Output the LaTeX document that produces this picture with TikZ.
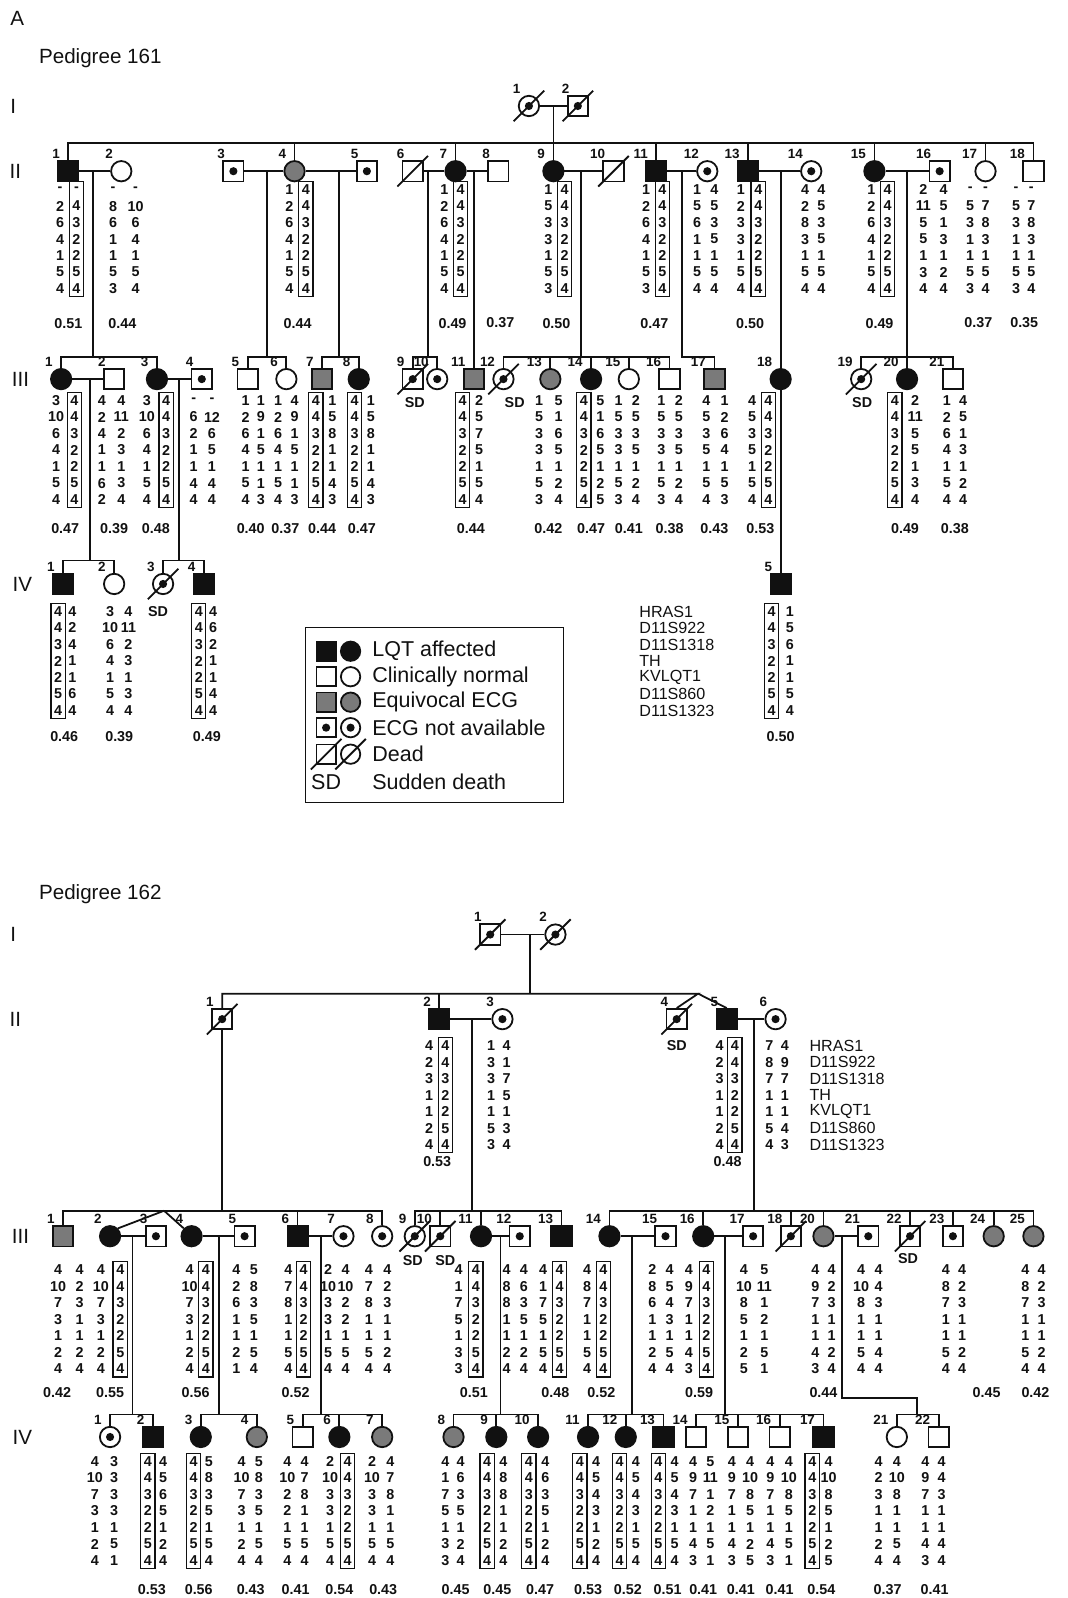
\documentclass[tikz,border=0pt]{standalone}
\usepackage{fontspec}
\setmainfont{Liberation Sans}
\usepackage{tikz}
\definecolor{pedink}{HTML}{111111}
\definecolor{pedgray}{HTML}{7A7A7A}
\newcommand\rowsep{16.2}
\newcommand\genofont{\fontsize{8}{8}\selectfont\bfseries}
\newcommand\idfont{\fontsize{7.5}{8}\selectfont\bfseries}
\tikzset{
  person/.style={draw=pedink,line width=1pt,minimum size=4mm,inner sep=0pt,fill=white},
  male/.style={person,rectangle},
  female/.style={person,circle},
  affected/.style={fill=pedink},
  equivocal/.style={fill=pedgray},
  no ecg/.style={path picture={\fill[pedink] (path picture bounding box.center) circle (0.8mm);}},
  link/.style={draw=pedink,line width=1pt},
  digit/.style={font=\genofont,text=pedink,inner sep=0pt},
  hap frame/.style={draw=pedink,line width=0.7pt},
  idno/.style={font=\idfont,text=pedink,inner sep=0pt,anchor=south east},
  score/.style={font=\genofont,text=pedink,inner sep=0pt},
  sd/.style={font=\genofont,text=pedink,inner sep=0pt},
  gen/.style={font=\fontsize{11.5}{12}\selectfont,text=pedink,inner sep=0pt},
  marker/.style={font=\fontsize{9}{10}\selectfont,text=pedink,inner sep=0pt,anchor=west},
  key text/.style={font=\fontsize{12}{13}\selectfont,text=pedink,inner sep=0pt,anchor=west},
  key/.style={minimum size=3.8mm}
}
\newcommand\ind[5]{%
  \node[#4] (#1) at (#2,#3) {};
  \node[idno] (#1-no) at (#2-8,#3-12) {#5};}
\newcommand\dead[1]{\draw[link] ([shift={(-15,15)}]#1.center) -- ([shift={(15,-15)}]#1.center);}
\newcommand\hap[4]{\foreach \al [count=\k from 0] in {#4} \node[digit] (#1-\k) at (#2,#3+\k*\rowsep) {\al};}
\newcommand\haplo[4]{\hap{#1}{#2}{#3}{#4}%
  \draw[hap frame] (#2-7,#3-8) rectangle (#2+7,#3+6*\rowsep+8);}
\newcommand\sibline[3]{\draw[link] (#2.north) |- (#3.north |- 0,#1) -- (#3.north);}
\newcommand\drop[2]{\draw[link] (#2.north) -- (#2.north |- 0,#1);}

\begin{document}
\begin{tikzpicture}[x=0.2mm,y=-0.2mm]
  \useasboundingbox (0,0) rectangle (1047,1568);

  \node[gen] (panel) at (17,18) {A};
  \node[gen,anchor=west] (title161) at (38,57) {Pedigree 161};
  \node[gen] (gxI) at (13,104) {I};
  \node[gen] (gxII) at (15,168) {II};
  \node[gen] (gxIII) at (20,372) {III};
  \node[gen] (gxIV) at (22,573) {IV};

  \ind{xI1}{519}{104}{female,no ecg}{1}
  \ind{xI2}{567}{104}{male,no ecg}{2}
  \dead{xI1} \dead{xI2}

  \ind{xII1}{67}{168}{male,affected}{1}
  \ind{xII2}{119}{168}{female}{2}
  \ind{xII3}{229}{168}{male,no ecg}{3}
  \ind{xII4}{289}{168}{female,equivocal}{4}
  \ind{xII5}{360}{168}{male,no ecg}{5}
  \ind{xII6}{405}{168}{male}{6}
  \ind{xII7}{447}{168}{female,affected}{7}
  \ind{xII8}{489}{168}{male}{8}
  \ind{xII9}{543}{168}{female,affected}{9}
  \ind{xII10}{602}{168}{male}{10}
  \ind{xII11}{644}{168}{male,affected}{11}
  \ind{xII12}{694}{168}{female,no ecg}{12}
  \ind{xII13}{734}{168}{male,affected}{13}
  \ind{xII14}{796}{168}{female,no ecg}{14}
  \ind{xII15}{858}{168}{female,affected}{15}
  \ind{xII16}{922}{168}{male,no ecg}{16}
  \ind{xII17}{967}{168}{female}{17}
  \ind{xII18}{1014}{168}{male}{18}
  \dead{xII6} \dead{xII10}

  \ind{xIII1}{60}{372}{female,affected}{1}
  \ind{xIII2}{112}{372}{male}{2}
  \ind{xIII3}{154}{372}{female,affected}{3}
  \ind{xIII4}{198}{372}{male,no ecg}{4}
  \ind{xIII5}{243}{372}{male}{5}
  \ind{xIII6}{281}{372}{female}{6}
  \ind{xIII7}{316}{372}{male,equivocal}{7}
  \ind{xIII8}{352}{372}{female,affected}{8}
  \ind{xIII9}{405}{372}{male,no ecg}{9}
  \ind{xIII10}{429}{372}{female,no ecg}{10}
  \ind{xIII11}{465}{372}{male,equivocal}{11}
  \ind{xIII12}{494}{372}{female,no ecg}{12}
  \ind{xIII13}{540}{372}{female,equivocal}{13}
  \ind{xIII14}{580}{372}{female,affected}{14}
  \ind{xIII15}{617}{372}{female}{15}
  \ind{xIII16}{657}{372}{male}{16}
  \ind{xIII17}{701}{372}{male,equivocal}{17}
  \ind{xIII18}{766}{372}{female,affected}{18}
  \ind{xIII19}{845}{372}{female,no ecg}{19}
  \ind{xIII20}{890}{372}{female,affected}{20}
  \ind{xIII21}{935}{372}{male}{21}
  \dead{xIII9} \dead{xIII12} \dead{xIII19}

  \ind{xIV1}{62}{573}{male,affected}{1}
  \ind{xIV2}{112}{573}{female}{2}
  \ind{xIV3}{160}{573}{female,no ecg}{3}
  \ind{xIV4}{200}{573}{male,affected}{4}
  \ind{xIV5}{766}{573}{male,affected}{5}
  \dead{xIV3}

  \node[sd] (sdxIII9) at (407,395) {SD};
  \node[sd] (sdxIII12) at (505,395) {SD};
  \node[sd] (sdxIII19) at (846,395) {SD};
  \node[sd] (sdxIV3) at (155,600) {SD};

  \coordinate (dxI) at (543,104);
  \coordinate (dxII1) at (91,168);
  \coordinate (dxII3) at (262,168);
  \coordinate (dxII4) at (333,168);
  \coordinate (dxII6) at (420,168);
  \coordinate (dxII7) at (465,168);
  \coordinate (dxII9) at (570,168);
  \coordinate (dxII11) at (669,168);
  \coordinate (dxII13) at (766,168);
  \coordinate (dxII15) at (890,168);
  \coordinate (dxIII1) at (88,372);
  \coordinate (dxIII3) at (176,372);

  \draw[link] (xI1.east) -- (xI2.west);
  \draw[link] (dxI) -- (dxI |- 0,140);
  \sibline{140}{xII1}{xII18}
  \foreach \c in {xII4,xII7,xII9,xII11,xII13,xII15,xII17} \drop{140}{\c};
  \foreach \a/\b in {xII1/xII2,xII3/xII4,xII4/xII5,xII6/xII7,xII7/xII8,xII9/xII10,xII11/xII12,xII13/xII14,xII15/xII16,xIII1/xIII2,xIII3/xIII4}
    \draw[link] (\a.east) -- (\b.west);

  \draw[link] (dxII1) -- (dxII1 |- 0,350);
  \sibline{350}{xIII1}{xIII3}
  \draw[link] (dxII3) -- (dxII3 |- 0,350);
  \sibline{350}{xIII5}{xIII6}
  \draw[link] (dxII4) -- (dxII4 |- 0,350);
  \sibline{350}{xIII7}{xIII8}
  \draw[link] (dxII6) -- (dxII6 |- 0,350);
  \sibline{350}{xIII9}{xIII10}
  \draw[link] (dxII7) -- (xIII11.north);
  \draw[link] (dxII9) -- (dxII9 |- 0,350);
  \sibline{350}{xIII12}{xIII16}
  \foreach \c in {xIII13,xIII14,xIII15} \drop{350}{\c};
  \draw[link] (dxII11) |- (xIII17.north |- 0,350) -- (xIII17.north);
  \draw[link] (dxII13) -- (xIII18.north);
  \draw[link] (xIII18.south) -- (xIV5.north);
  \sibline{350}{xIII19}{xIII21}
  \draw[link] (dxII15) -- (xIII20.north);

  \draw[link] (dxIII1) -- (dxIII1 |- 0,550);
  \sibline{550}{xIV1}{xIV2}
  \draw[link] (dxIII3) -- (dxIII3 |- 0,550);
  \sibline{550}{xIV3}{xIV4}

  \hap{hxII1a}{59}{186}{-,2,6,4,1,5,4}
  \haplo{hxII1b}{75}{186}{-,4,3,2,2,5,4}
  \hap{hxII2a}{111}{186}{-,8,6,1,1,5,3}
  \hap{hxII2b}{133}{186}{-,10,6,4,1,5,4}
  \hap{hxII4a}{284}{186}{1,2,6,4,1,5,4}
  \haplo{hxII4b}{300}{186}{4,4,3,2,2,5,4}
  \hap{hxII7a}{436}{186}{1,2,6,4,1,5,4}
  \haplo{hxII7b}{452}{186}{4,4,3,2,2,5,4}
  \hap{hxII9a}{538}{186}{1,5,3,3,1,5,3}
  \haplo{hxII9b}{554}{186}{4,4,3,2,2,5,4}
  \hap{hxII11a}{634}{186}{1,2,6,4,1,5,3}
  \haplo{hxII11b}{650}{186}{4,4,3,2,2,5,4}
  \hap{hxII12a}{684}{186}{1,5,6,1,1,5,4}
  \hap{hxII12b}{701}{186}{4,5,3,5,1,5,4}
  \hap{hxII13a}{727}{186}{1,2,3,3,1,5,4}
  \haplo{hxII13b}{744}{186}{4,4,3,2,2,5,4}
  \hap{hxII14a}{790}{186}{4,2,8,3,1,5,4}
  \hap{hxII14b}{806}{186}{4,5,3,5,1,5,4}
  \hap{hxII15a}{855}{186}{1,2,6,4,1,5,4}
  \haplo{hxII15b}{871}{186}{4,4,3,2,2,5,4}
  \hap{hxII16a}{906}{186}{2,11,5,5,1,3,4}
  \hap{hxII16b}{926}{186}{4,5,1,3,1,2,4}
  \hap{hxII17a}{952}{186}{-,5,3,1,1,5,3}
  \hap{hxII17b}{967}{186}{-,7,8,3,1,5,4}
  \hap{hxII18a}{997}{186}{-,5,3,1,1,5,3}
  \hap{hxII18b}{1012}{186}{-,7,8,3,1,5,4}
  \foreach \x/\s [count=\n] in {67/0.51,120/0.44,292/0.44,444/0.49,491/0.37,546/0.50,642/0.47,736/0.50,863/0.49,960/0.37,1005/0.35}
    \node[score] (sxII-\n) at (\x,317) {\s};

  \hap{hxIII1a}{55}{393}{3,10,6,4,1,5,4}
  \haplo{hxIII1b}{73}{393}{4,4,3,2,2,5,4}
  \hap{hxIII2a}{100}{393}{4,2,4,1,1,6,2}
  \hap{hxIII2b}{119}{393}{4,11,2,3,1,3,4}
  \hap{hxIII3a}{144}{393}{3,10,6,4,1,5,4}
  \haplo{hxIII3b}{163}{393}{4,4,3,2,2,5,4}
  \hap{hxIII4a}{190}{393}{-,6,2,1,1,4,4}
  \hap{hxIII4b}{208}{393}{-,12,6,5,1,4,4}
  \hap{hxIII5a}{241}{393}{1,2,6,4,1,5,4}
  \hap{hxIII5b}{256}{393}{1,9,1,5,1,1,3}
  \hap{hxIII6a}{273}{393}{1,2,6,4,1,5,4}
  \hap{hxIII6b}{289}{393}{4,9,1,5,1,1,3}
  \haplo{hxIII7a}{310}{393}{4,4,3,2,2,5,4}
  \hap{hxIII7b}{326}{393}{1,5,8,1,1,4,3}
  \haplo{hxIII8a}{348}{393}{4,4,3,2,2,5,4}
  \hap{hxIII8b}{364}{393}{1,5,8,1,1,4,3}
  \haplo{hxIII11a}{454}{393}{4,4,3,2,2,5,4}
  \hap{hxIII11b}{470}{393}{2,5,7,5,1,5,4}
  \hap{hxIII13a}{529}{393}{1,5,3,3,1,5,3}
  \hap{hxIII13b}{548}{393}{5,1,6,5,1,2,4}
  \haplo{hxIII14a}{573}{393}{4,4,3,2,2,5,4}
  \hap{hxIII14b}{589}{393}{5,1,6,5,1,2,5}
  \hap{hxIII15a}{607}{393}{1,5,3,3,1,5,3}
  \hap{hxIII15b}{624}{393}{2,5,3,5,1,2,4}
  \hap{hxIII16a}{649}{393}{1,5,3,3,1,5,3}
  \hap{hxIII16b}{666}{393}{2,5,3,5,1,2,4}
  \hap{hxIII17a}{693}{393}{4,5,3,5,1,5,4}
  \hap{hxIII17b}{711}{393}{1,2,6,4,1,5,3}
  \hap{hxIII18a}{738}{393}{4,5,3,5,1,5,4}
  \haplo{hxIII18b}{754}{393}{4,4,3,2,2,5,4}
  \haplo{hxIII20a}{878}{393}{4,4,3,2,2,5,4}
  \hap{hxIII20b}{898}{393}{2,11,5,5,1,3,4}
  \hap{hxIII21a}{929}{393}{1,2,6,4,1,5,4}
  \hap{hxIII21b}{945}{393}{4,5,1,3,1,2,4}
  \foreach \x/\s [count=\n] in {64/0.47,112/0.39,153/0.48,246/0.40,280/0.37,316/0.44,355/0.47,462/0.44,538/0.42,580/0.47,617/0.41,657/0.38,701/0.43,746/0.53,888/0.49,937/0.38}
    \node[score] (sxIII-\n) at (\x,519) {\s};

  \haplo{hxIV1a}{57}{600}{4,4,3,2,2,5,4}
  \hap{hxIV1b}{71}{600}{4,2,4,1,1,6,4}
  \hap{hxIV2a}{108}{600}{3,10,6,4,1,5,4}
  \hap{hxIV2b}{126}{600}{4,11,2,3,1,3,4}
  \haplo{hxIV4a}{195}{600}{4,4,3,2,2,5,4}
  \hap{hxIV4b}{209}{600}{4,6,2,1,1,4,4}
  \haplo{hxIV5a}{757}{600}{4,4,3,2,2,5,4}
  \hap{hxIV5b}{775}{600}{1,5,6,1,1,5,4}
  \foreach \x/\s [count=\n] in {63/0.46,117/0.39,203/0.49,766/0.50}
    \node[score] (sxIV-\n) at (\x,723) {\s};

  \foreach \m [count=\k from 0] in {HRAS1,D11S922,D11S1318,TH,KVLQT1,D11S860,D11S1323}
    \node[marker] (mx-\k) at (627,600+\k*\rowsep) {\m};

  \draw[pedink,line width=0.6pt] (300,616) rectangle (553,787);
  \node[male,affected,key] (kam) at (320,639) {};
  \node[female,affected,key] (kaf) at (344,639) {};
  \node[key text] (kat) at (365,639) {LQT affected};
  \node[male,key] (knm) at (320,664) {};
  \node[female,key] (knf) at (344,664) {};
  \node[key text] (knt) at (365,664) {Clinically normal};
  \node[male,equivocal,key] (kem) at (320,689) {};
  \node[female,equivocal,key] (kef) at (344,689) {};
  \node[key text] (ket) at (365,689) {Equivocal ECG};
  \node[male,no ecg,key] (kxm) at (320,714) {};
  \node[female,no ecg,key] (kxf) at (344,714) {};
  \node[key text] (kxt) at (365,714) {ECG not available};
  \node[male,key] (kdm) at (320,740) {};
  \node[female,key] (kdf) at (344,740) {};
  \dead{kdm} \dead{kdf}
  \node[key text] (kdt) at (365,740) {Dead};
  \node[key text] (ksd) at (305,767) {SD};
  \node[key text] (kst) at (365,767) {Sudden death};

  \node[gen,anchor=west] (title162) at (38,877) {Pedigree 162};
  \node[gen] (gyI) at (13,917) {I};
  \node[gen] (gyII) at (15,1000) {II};
  \node[gen] (gyIII) at (20,1213) {III};
  \node[gen] (gyIV) at (22,1410) {IV};

  \ind{yI1}{481}{917}{male,no ecg}{1}
  \ind{yI2}{545}{917}{female,no ecg}{2}
  \dead{yI1} \dead{yI2}

  \ind{yII1}{218}{1000}{male,no ecg}{1}
  \ind{yII2}{431}{1000}{male,affected}{2}
  \ind{yII3}{493}{1000}{female,no ecg}{3}
  \ind{yII4}{664}{1000}{male,no ecg}{4}
  \ind{yII5}{713}{1000}{male,affected}{5}
  \ind{yII6}{761}{1000}{female,no ecg}{6}
  \dead{yII1} \dead{yII4}
  \node[sd] (sdyII4) at (664,1026) {SD};

  \ind{yIII1}{62}{1213}{male,equivocal}{1}
  \ind{yIII2}{108}{1213}{female,affected}{2}
  \ind{yIII3}{153}{1213}{male,no ecg}{3}
  \ind{yIII4}{188}{1213}{female,affected}{4}
  \ind{yIII5}{240}{1213}{male,no ecg}{5}
  \ind{yIII6}{292}{1213}{male,affected}{6}
  \ind{yIII7}{337}{1213}{female,no ecg}{7}
  \ind{yIII8}{375}{1213}{female,no ecg}{8}
  \ind{yIII9}{407}{1213}{female,no ecg}{9}
  \ind{yIII10}{432}{1213}{male,no ecg}{10}
  \ind{yIII11}{472}{1213}{female,affected}{11}
  \ind{yIII12}{510}{1213}{male,no ecg}{12}
  \ind{yIII13}{551}{1213}{male,affected}{13}
  \ind{yIII14}{598}{1213}{female,affected}{14}
  \ind{yIII15}{653}{1213}{male,no ecg}{15}
  \ind{yIII16}{690}{1213}{female,affected}{16}
  \ind{yIII17}{739}{1213}{male,no ecg}{17}
  \ind{yIII18}{776}{1213}{male,no ecg}{18}
  \ind{yIII20}{808}{1213}{female,equivocal}{20}
  \ind{yIII21}{852}{1213}{male,no ecg}{21}
  \ind{yIII22}{893}{1213}{male,no ecg}{22}
  \ind{yIII23}{935}{1213}{male,no ecg}{23}
  \ind{yIII24}{975}{1213}{female,equivocal}{24}
  \ind{yIII25}{1014}{1213}{female,equivocal}{25}
  \dead{yIII9} \dead{yIII10} \dead{yIII18} \dead{yIII22}
  \node[sd] (sdyIII9) at (405,1237) {SD};
  \node[sd] (sdyIII10) at (437,1237) {SD};
  \node[sd] (sdyIII22) at (891,1235) {SD};

  \ind{yIV1}{108}{1410}{female,no ecg}{1}
  \ind{yIV2}{150}{1410}{male,affected}{2}
  \ind{yIV3}{197}{1410}{female,affected}{3}
  \ind{yIV4}{252}{1410}{female,equivocal}{4}
  \ind{yIV5}{297}{1410}{male}{5}
  \ind{yIV6}{333}{1410}{female,affected}{6}
  \ind{yIV7}{375}{1410}{female,equivocal}{7}
  \ind{yIV8}{445}{1410}{female,equivocal}{8}
  \ind{yIV9}{487}{1410}{female,affected}{9}
  \ind{yIV10}{528}{1410}{female,affected}{10}
  \ind{yIV11}{577}{1410}{female,affected}{11}
  \ind{yIV12}{614}{1410}{female,affected}{12}
  \ind{yIV13}{651}{1410}{male,affected}{13}
  \ind{yIV14}{683}{1410}{male}{14}
  \ind{yIV15}{724}{1410}{male}{15}
  \ind{yIV16}{765}{1410}{male}{16}
  \ind{yIV17}{808}{1410}{male,affected}{17}
  \ind{yIV21}{880}{1410}{female}{21}
  \ind{yIV22}{921}{1410}{male}{22}

  \coordinate (dyI) at (520,917);
  \coordinate (twinII) at (685,975);
  \coordinate (dyII2) at (463,1000);
  \coordinate (dyII5) at (740,1000);
  \coordinate (twinIII) at (161,1188);
  \coordinate (dyIII2) at (130,1213);
  \coordinate (dyIII4) at (215,1213);
  \coordinate (dyIII6) at (315,1213);
  \coordinate (dyIII11) at (491,1213);
  \coordinate (dyIII14) at (620,1213);
  \coordinate (dyIII16) at (711,1213);
  \coordinate (dyIII20) at (826,1213);
  \coordinate (bendIII20) at (900,1372);

  \draw[link] (yI1.east) -- (yI2.west);
  \draw[link] (dyI) -- (dyI |- 0,975);
  \draw[link] (yII1.north) |- (twinII) -- (yII4.north);
  \draw[link] (twinII) -- (yII5.north);
  \drop{975}{yII2}
  \foreach \a/\b in {yII2/yII3,yII5/yII6,yIII2/yIII3,yIII4/yIII5,yIII6/yIII7,yIII11/yIII12,yIII14/yIII15,yIII16/yIII17,yIII20/yIII21}
    \draw[link] (\a.east) -- (\b.west);

  \draw[link] (yII1.south) -- (yII1.south |- 0,1188);
  \sibline{1188}{yIII1}{yIII8}
  \draw[link] (twinIII) -- (yIII2.north east);
  \draw[link] (twinIII) -- (yIII4.north west);
  \drop{1188}{yIII6}
  \draw[link] (dyII2) -- (dyII2 |- 0,1188);
  \sibline{1188}{yIII9}{yIII13}
  \foreach \c in {yIII10,yIII11} \drop{1188}{\c};
  \draw[link] (dyII5) -- (dyII5 |- 0,1188);
  \sibline{1188}{yIII14}{yIII25}
  \foreach \c in {yIII16,yIII18,yIII20,yIII22,yIII23,yIII24} \drop{1188}{\c};

  \foreach \d in {dyIII2,dyIII4,dyIII6,dyIII11,dyIII14,dyIII16}
    \draw[link] (\d) -- (\d |- 0,1388);
  \draw[link] (dyIII20) |- (bendIII20) -- (bendIII20 |- 0,1388);
  \sibline{1388}{yIV1}{yIV2}
  \sibline{1388}{yIV3}{yIV4}
  \sibline{1388}{yIV5}{yIV7}
  \sibline{1388}{yIV8}{yIV10}
  \sibline{1388}{yIV11}{yIV13}
  \sibline{1388}{yIV14}{yIV17}
  \sibline{1388}{yIV21}{yIV22}
  \foreach \c in {yIV6,yIV9,yIV12,yIV15,yIV16} \drop{1388}{\c};

  \hap{hyII2a}{421}{1026}{4,2,3,1,1,2,4}
  \haplo{hyII2b}{437}{1026}{4,4,3,2,2,5,4}
  \hap{hyII3a}{482}{1026}{1,3,3,1,1,5,3}
  \hap{hyII3b}{497}{1026}{4,1,7,5,1,3,4}
  \hap{hyII5a}{706}{1026}{4,2,3,1,1,2,4}
  \haplo{hyII5b}{721}{1026}{4,4,3,2,2,5,4}
  \hap{hyII6a}{755}{1026}{7,8,7,1,1,5,4}
  \hap{hyII6b}{770}{1026}{4,9,7,1,1,4,3}
  \foreach \m [count=\k from 0] in {HRAS1,D11S922,D11S1318,TH,KVLQT1,D11S860,D11S1323}
    \node[marker] (my-\k) at (794,1026+\k*\rowsep) {\m};
  \node[score] (syII-1) at (429,1140) {0.53};
  \node[score] (syII-2) at (714,1140) {0.48};

  \hap{hyIII1a}{57}{1246}{4,10,7,3,1,2,4}
  \hap{hyIII1b}{78}{1246}{4,2,3,1,1,2,4}
  \hap{hyIII2a}{99}{1246}{4,10,7,3,1,2,4}
  \haplo{hyIII2b}{118}{1246}{4,4,3,2,2,5,4}
  \hap{hyIII4a}{186}{1246}{4,10,7,3,1,2,4}
  \haplo{hyIII4b}{202}{1246}{4,4,3,2,2,5,4}
  \hap{hyIII5a}{232}{1246}{4,2,6,1,1,2,1}
  \hap{hyIII5b}{249}{1246}{5,8,3,5,1,5,4}
  \hap{hyIII6a}{283}{1246}{4,7,8,1,1,5,4}
  \haplo{hyIII6b}{298}{1246}{4,4,3,2,2,5,4}
  \hap{hyIII7a}{322}{1246}{2,10,3,3,1,5,4}
  \hap{hyIII7b}{339}{1246}{4,10,2,2,1,5,4}
  \hap{hyIII8a}{362}{1246}{4,7,8,1,1,5,4}
  \hap{hyIII8b}{380}{1246}{4,2,3,1,1,2,4}
  \hap{hyIII11a}{450}{1246}{4,1,7,5,1,3,3}
  \haplo{hyIII11b}{467}{1246}{4,4,3,2,2,5,4}
  \hap{hyIII12a}{497}{1246}{4,8,8,1,1,2,4}
  \hap{hyIII12b}{514}{1246}{4,6,3,5,1,2,4}
  \hap{hyIII13a}{533}{1246}{4,1,7,5,1,5,4}
  \haplo{hyIII13b}{549}{1246}{4,4,3,2,2,5,4}
  \hap{hyIII14a}{576}{1246}{4,8,7,1,1,5,4}
  \haplo{hyIII14b}{592}{1246}{4,4,3,2,2,5,4}
  \hap{hyIII15a}{640}{1246}{2,8,6,1,1,2,4}
  \hap{hyIII15b}{657}{1246}{4,5,4,3,1,5,4}
  \hap{hyIII16a}{676}{1246}{4,9,7,1,1,4,3}
  \haplo{hyIII16b}{693}{1246}{4,4,3,2,2,5,4}
  \hap{hyIII17a}{730}{1246}{4,10,8,5,1,2,5}
  \hap{hyIII17b}{750}{1246}{5,11,1,2,1,5,1}
  \hap{hyIII20a}{800}{1246}{4,9,7,1,1,4,3}
  \hap{hyIII20b}{816}{1246}{4,2,3,1,1,2,4}
  \hap{hyIII21a}{845}{1246}{4,10,8,1,1,5,4}
  \hap{hyIII21b}{862}{1246}{4,4,3,1,1,4,4}
  \hap{hyIII23a}{928}{1246}{4,8,7,1,1,5,4}
  \hap{hyIII23b}{944}{1246}{4,2,3,1,1,2,4}
  \hap{hyIII25a}{1006}{1246}{4,8,7,1,1,5,4}
  \hap{hyIII25b}{1022}{1246}{4,2,3,1,1,2,4}
  \foreach \x/\s [count=\n] in {56/0.42,108/0.55,192/0.56,290/0.52,465/0.51,545/0.48,590/0.52,686/0.59,808/0.44,968/0.45,1016/0.42}
    \node[score] (syIII-\n) at (\x,1366) {\s};

  \hap{hyIV1a}{93}{1434}{4,10,7,3,1,2,4}
  \hap{hyIV1b}{112}{1434}{3,3,3,3,1,5,1}
  \haplo{hyIV2a}{145}{1434}{4,4,3,2,2,5,4}
  \hap{hyIV2b}{160}{1434}{4,5,6,5,1,2,4}
  \haplo{hyIV3a}{190}{1434}{4,4,3,2,2,5,4}
  \hap{hyIV3b}{205}{1434}{5,8,3,5,1,5,4}
  \hap{hyIV4a}{237}{1434}{4,10,7,3,1,2,4}
  \hap{hyIV4b}{254}{1434}{5,8,3,5,1,5,4}
  \hap{hyIV5a}{282}{1434}{4,10,2,2,1,5,4}
  \hap{hyIV5b}{299}{1434}{4,7,8,1,1,5,4}
  \hap{hyIV6a}{324}{1434}{2,10,3,3,1,5,4}
  \haplo{hyIV6b}{341}{1434}{4,4,3,2,2,5,4}
  \hap{hyIV7a}{365}{1434}{2,10,3,3,1,5,4}
  \hap{hyIV7b}{383}{1434}{4,7,8,1,1,5,4}
  \hap{hyIV8a}{437}{1434}{4,1,7,5,1,3,3}
  \hap{hyIV8b}{452}{1434}{4,6,3,5,1,2,4}
  \haplo{hyIV9a}{478}{1434}{4,4,3,2,2,5,4}
  \hap{hyIV9b}{494}{1434}{4,8,8,1,1,2,4}
  \haplo{hyIV10a}{519}{1434}{4,4,3,2,2,5,4}
  \hap{hyIV10b}{535}{1434}{4,6,3,5,1,2,4}
  \haplo{hyIV11a}{569}{1434}{4,4,3,2,2,5,4}
  \hap{hyIV11b}{585}{1434}{4,5,4,3,1,2,4}
  \haplo{hyIV12a}{608}{1434}{4,4,3,2,2,5,4}
  \hap{hyIV12b}{624}{1434}{4,5,4,3,1,5,4}
  \haplo{hyIV13a}{646}{1434}{4,4,3,2,2,5,4}
  \hap{hyIV13b}{662}{1434}{4,5,4,3,1,5,4}
  \hap{hyIV14a}{680}{1434}{4,9,7,1,1,4,3}
  \hap{hyIV14b}{697}{1434}{5,11,1,2,1,5,1}
  \hap{hyIV15a}{718}{1434}{4,9,7,1,1,4,3}
  \hap{hyIV15b}{736}{1434}{4,10,8,5,1,2,5}
  \hap{hyIV16a}{756}{1434}{4,9,7,1,1,4,3}
  \hap{hyIV16b}{774}{1434}{4,10,8,5,1,5,1}
  \haplo{hyIV17a}{797}{1434}{4,4,3,2,2,5,4}
  \hap{hyIV17b}{813}{1434}{4,10,8,5,1,2,5}
  \hap{hyIV21a}{862}{1434}{4,2,3,1,1,2,4}
  \hap{hyIV21b}{880}{1434}{4,10,8,1,1,5,4}
  \hap{hyIV22a}{908}{1434}{4,9,7,1,1,4,3}
  \hap{hyIV22b}{924}{1434}{4,4,3,1,1,4,4}
  \foreach \x/\s [count=\n] in {149/0.53,195/0.56,246/0.43,290/0.41,333/0.54,376/0.43,447/0.45,488/0.45,530/0.47,577/0.53,616/0.52,655/0.51,690/0.41,727/0.41,765/0.41,806/0.54,871/0.37,917/0.41}
    \node[score] (syIV-\n) at (\x,1560) {\s};
\end{tikzpicture}
\end{document}
